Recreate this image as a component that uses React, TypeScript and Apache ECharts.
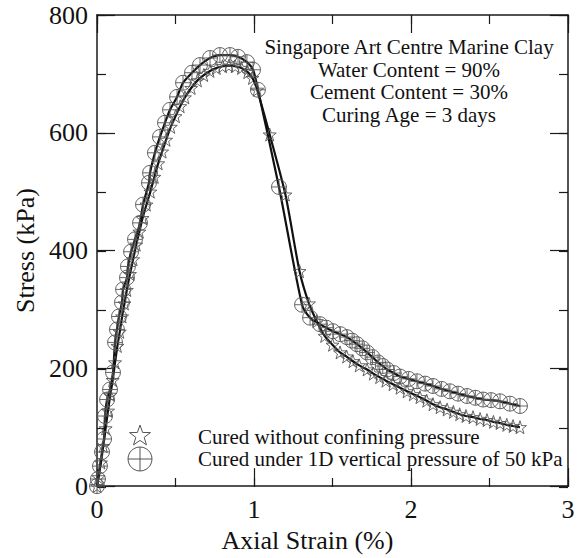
import React, { useEffect, useRef } from "react";
import * as echarts from "echarts";

// Unconfined-cured specimen (stars)
const strainNoConfine = [
  0, 0.01, 0.025, 0.04, 0.055, 0.07, 0.085, 0.1, 0.115, 0.13, 0.145, 0.16, 0.175, 0.19,
  0.21, 0.23, 0.25, 0.27, 0.29, 0.315, 0.34, 0.365, 0.39, 0.415, 0.44, 0.47, 0.5, 0.53,
  0.56, 0.6, 0.64, 0.68, 0.72, 0.76, 0.8, 0.84, 0.88, 0.92, 0.96, 0.99, 1.02, 1.1, 1.2,
  1.29, 1.35, 1.4, 1.45, 1.5, 1.548, 1.59, 1.63, 1.67, 1.72, 1.76, 1.8, 1.84, 1.885,
  1.93, 1.975, 2.015, 2.057, 2.1, 2.14, 2.185, 2.23, 2.27, 2.31, 2.35, 2.395, 2.44,
  2.484, 2.525, 2.567, 2.61, 2.65, 2.694,
];
const stressNoConfine = [
  0, 15, 40, 68, 98, 128, 155, 180, 210, 238, 262, 288, 310, 333,
  360, 385, 410, 432, 455, 478, 500, 525, 548, 568, 588, 610, 628, 645,
  660, 676, 689, 698, 705, 710, 713, 714, 713, 710, 703, 693, 673, 597, 495,
  365, 310, 280, 255, 240, 227, 220, 212, 205, 198, 191, 185, 179, 173,
  167, 161, 156, 151, 145, 139, 134, 130, 126, 122, 119, 117, 114,
  112, 109, 107, 104, 102, 100,
];

// Specimen cured under 1D vertical pressure of 50 kPa (circles)
const strainPressure = [
  0, 0.006, 0.019, 0.032, 0.045, 0.051, 0.064, 0.083, 0.102, 0.115, 0.127, 0.14, 0.159,
  0.166, 0.191, 0.197, 0.217, 0.242, 0.274, 0.293, 0.331, 0.338, 0.369, 0.401, 0.433,
  0.465, 0.51, 0.548, 0.605, 0.656, 0.72, 0.783, 0.847, 0.898, 0.955, 0.994, 1.025,
  1.159, 1.306, 1.357, 1.42, 1.46, 1.503, 1.55, 1.592, 1.625, 1.656, 1.69, 1.72, 1.755,
  1.79, 1.82, 1.847, 1.89, 1.93, 1.985, 2.038, 2.09, 2.14, 2.195, 2.248, 2.3, 2.357,
  2.41, 2.459, 2.51, 2.567, 2.63, 2.694,
];
const stressPressure = [
  0, 12, 34, 58, 80, 119, 147, 164, 193, 244, 266, 288, 312,
  334, 354, 373, 398, 419, 447, 478, 515, 532, 566, 593, 617,
  639, 661, 685, 702, 715, 727, 732, 732, 729, 720, 707, 673,
  508, 308, 286, 275, 269, 263, 258, 253, 247, 241, 234, 227, 219,
  210, 204, 198, 192, 186, 182, 178, 174, 170, 165, 161, 157, 153,
  150, 147, 146, 144, 140, 136,
];

const xTicks = { min: 0, max: 3, interval: 1 };
const yTicks = { min: 0, max: 800, interval: 200 };
const xMinorTicks = { min: 0, max: 3, interval: 0.5 };
const yMinorTicks = { min: 0, max: 800, interval: 100 };

const seriesNames = [
  "Cured without confining pressure",
  "Cured under 1D vertical pressure of 50 kPa",
];

const noteLines = [
  "Singapore Art Centre Marine Clay",
  "Water Content = 90%",
  "Cement Content = 30%",
  "Curing Age = 3 days",
];

const STAR =
  "path://M0,-10L2.35,-3.24L9.51,-3.09L3.8,1.24L5.88,8.09L0,4L-5.88,8.09L-3.8,1.24L-9.51,-3.09L-2.35,-3.24Z";
const CROSS_CIRCLE =
  "path://M0,-10A10,10,0,1,1,0,10A10,10,0,1,1,0,-10ZM-10,0L10,0M0,-10L0,10";

const FONT = "Liberation Serif";
const MARKER_STROKE = "#555";
const INK = "#1a1a1a";

const zip = (xs: number[], ys: number[]) => xs.map((x, i) => [x, ys[i]]);

// five-pointed outline star for the key
function starPoints(cx: number, cy: number, r: number) {
  const pts: number[][] = [];
  for (let k = 0; k < 10; k++) {
    const a = (-90 + k * 36) * (Math.PI / 180);
    const rr = k % 2 === 0 ? r : r * 0.4;
    pts.push([cx + rr * Math.cos(a), cy + rr * Math.sin(a)]);
  }
  return pts;
}

export default function App() {
  const ref = useRef<HTMLDivElement>(null);

  useEffect(() => {
    if (!ref.current) return;
    const chart = echarts.init(ref.current, undefined, { renderer: "svg" });

    const axisLine = { show: true, onZero: false, lineStyle: { color: INK, width: 1.5 } };
    const hiddenLine = { show: false, onZero: false };
    const majorTick = { show: true, inside: true, length: 18, lineStyle: { color: INK, width: 1.2 } };
    const minorTick = { show: true, inside: true, length: 9, lineStyle: { color: INK, width: 1.2 } };
    const tickLabel = { color: "#111", fontFamily: FONT, fontSize: 26 };
    const frame = { left: 97, right: 11, top: 15, bottom: 71 };

    // a bare axis that only carries inward ticks
    const tickOnly = (position: string, ticks: object, tickStyle: object, gridIndex: number) => ({
      type: "value",
      gridIndex,
      position,
      ...ticks,
      axisLine: gridIndex === 0 ? axisLine : hiddenLine,
      axisTick: tickStyle,
      splitLine: { show: false },
      axisLabel: { show: false },
    });

    const keyX = 140;
    const keyTextX = 198;
    const keyY = [436, 459];

    chart.setOption({
      animation: false,
      backgroundColor: "#fff",
      // second grid overlays the first and carries the half-step ticks
      grid: [frame, frame],
      xAxis: [
        {
          type: "value",
          gridIndex: 0,
          position: "bottom",
          ...xTicks,
          axisLine,
          axisTick: majorTick,
          splitLine: { show: false },
          axisLabel: { ...tickLabel, margin: 10 },
          name: "Axial Strain (%)",
          nameLocation: "middle",
          nameGap: 40,
          nameTextStyle: { color: "#111", fontFamily: FONT, fontSize: 26, padding: [0, 50, 0, 0] },
        },
        tickOnly("top", xTicks, majorTick, 0),
        tickOnly("bottom", xMinorTicks, minorTick, 1),
        tickOnly("top", xMinorTicks, minorTick, 1),
      ],
      yAxis: [
        {
          type: "value",
          gridIndex: 0,
          position: "left",
          ...yTicks,
          axisLine,
          axisTick: majorTick,
          splitLine: { show: false },
          axisLabel: { ...tickLabel, margin: 9 },
          name: "Stress (kPa)",
          nameLocation: "middle",
          nameGap: 52,
          nameTextStyle: { color: "#111", fontFamily: FONT, fontSize: 26 },
        },
        tickOnly("right", yTicks, majorTick, 0),
        tickOnly("left", yMinorTicks, minorTick, 1),
        tickOnly("right", yMinorTicks, minorTick, 1),
      ],
      graphic: [
        {
          type: "text",
          x: 409,
          y: 36,
          style: {
            text: noteLines.join("\n"),
            align: "center",
            verticalAlign: "top",
            fontFamily: FONT,
            fontSize: 21,
            lineHeight: 22.5,
            fill: "#111",
          },
        },
        {
          type: "polygon",
          shape: { points: starPoints(keyX, keyY[0], 11) },
          style: { fill: "none", stroke: MARKER_STROKE, lineWidth: 1 },
        },
        {
          type: "circle",
          shape: { cx: keyX, cy: keyY[1], r: 12 },
          style: { fill: "none", stroke: MARKER_STROKE, lineWidth: 1 },
        },
        {
          type: "line",
          shape: { x1: keyX - 12, y1: keyY[1], x2: keyX + 12, y2: keyY[1] },
          style: { stroke: MARKER_STROKE, lineWidth: 1 },
        },
        {
          type: "line",
          shape: { x1: keyX, y1: keyY[1] - 12, x2: keyX, y2: keyY[1] + 12 },
          style: { stroke: MARKER_STROKE, lineWidth: 1 },
        },
        {
          type: "text",
          x: keyTextX,
          y: keyY[0] + 1,
          style: {
            text: seriesNames[0],
            verticalAlign: "middle",
            fontFamily: FONT,
            fontSize: 21,
            fill: "#111",
          },
        },
        {
          type: "text",
          x: keyTextX,
          y: keyY[1],
          style: {
            text: seriesNames[1],
            verticalAlign: "middle",
            fontFamily: FONT,
            fontSize: 21,
            fill: "#111",
          },
        },
      ],
      series: [
        {
          name: seriesNames[0],
          type: "line",
          xAxisIndex: 0,
          yAxisIndex: 0,
          data: zip(strainNoConfine, stressNoConfine),
          smooth: 0.25,
          symbol: STAR,
          symbolSize: 13,
          showAllSymbol: true,
          lineStyle: { color: "#111", width: 2.2 },
          itemStyle: { color: "rgba(0,0,0,0)", borderColor: MARKER_STROKE, borderWidth: 0.9 },
        },
        {
          name: seriesNames[1],
          type: "line",
          xAxisIndex: 0,
          yAxisIndex: 0,
          data: zip(strainPressure, stressPressure),
          smooth: 0.25,
          symbol: CROSS_CIRCLE,
          symbolSize: 15,
          showAllSymbol: true,
          lineStyle: { color: "#111", width: 2.2 },
          itemStyle: { color: "rgba(0,0,0,0)", borderColor: MARKER_STROKE, borderWidth: 0.9 },
        },
      ],
    });

    return () => chart.dispose();
  }, []);

  return (
    <div
      ref={ref}
      style={{ position: "absolute", left: 0, top: 0, width: 579, height: 558, background: "#fff" }}
    />
  );
}
